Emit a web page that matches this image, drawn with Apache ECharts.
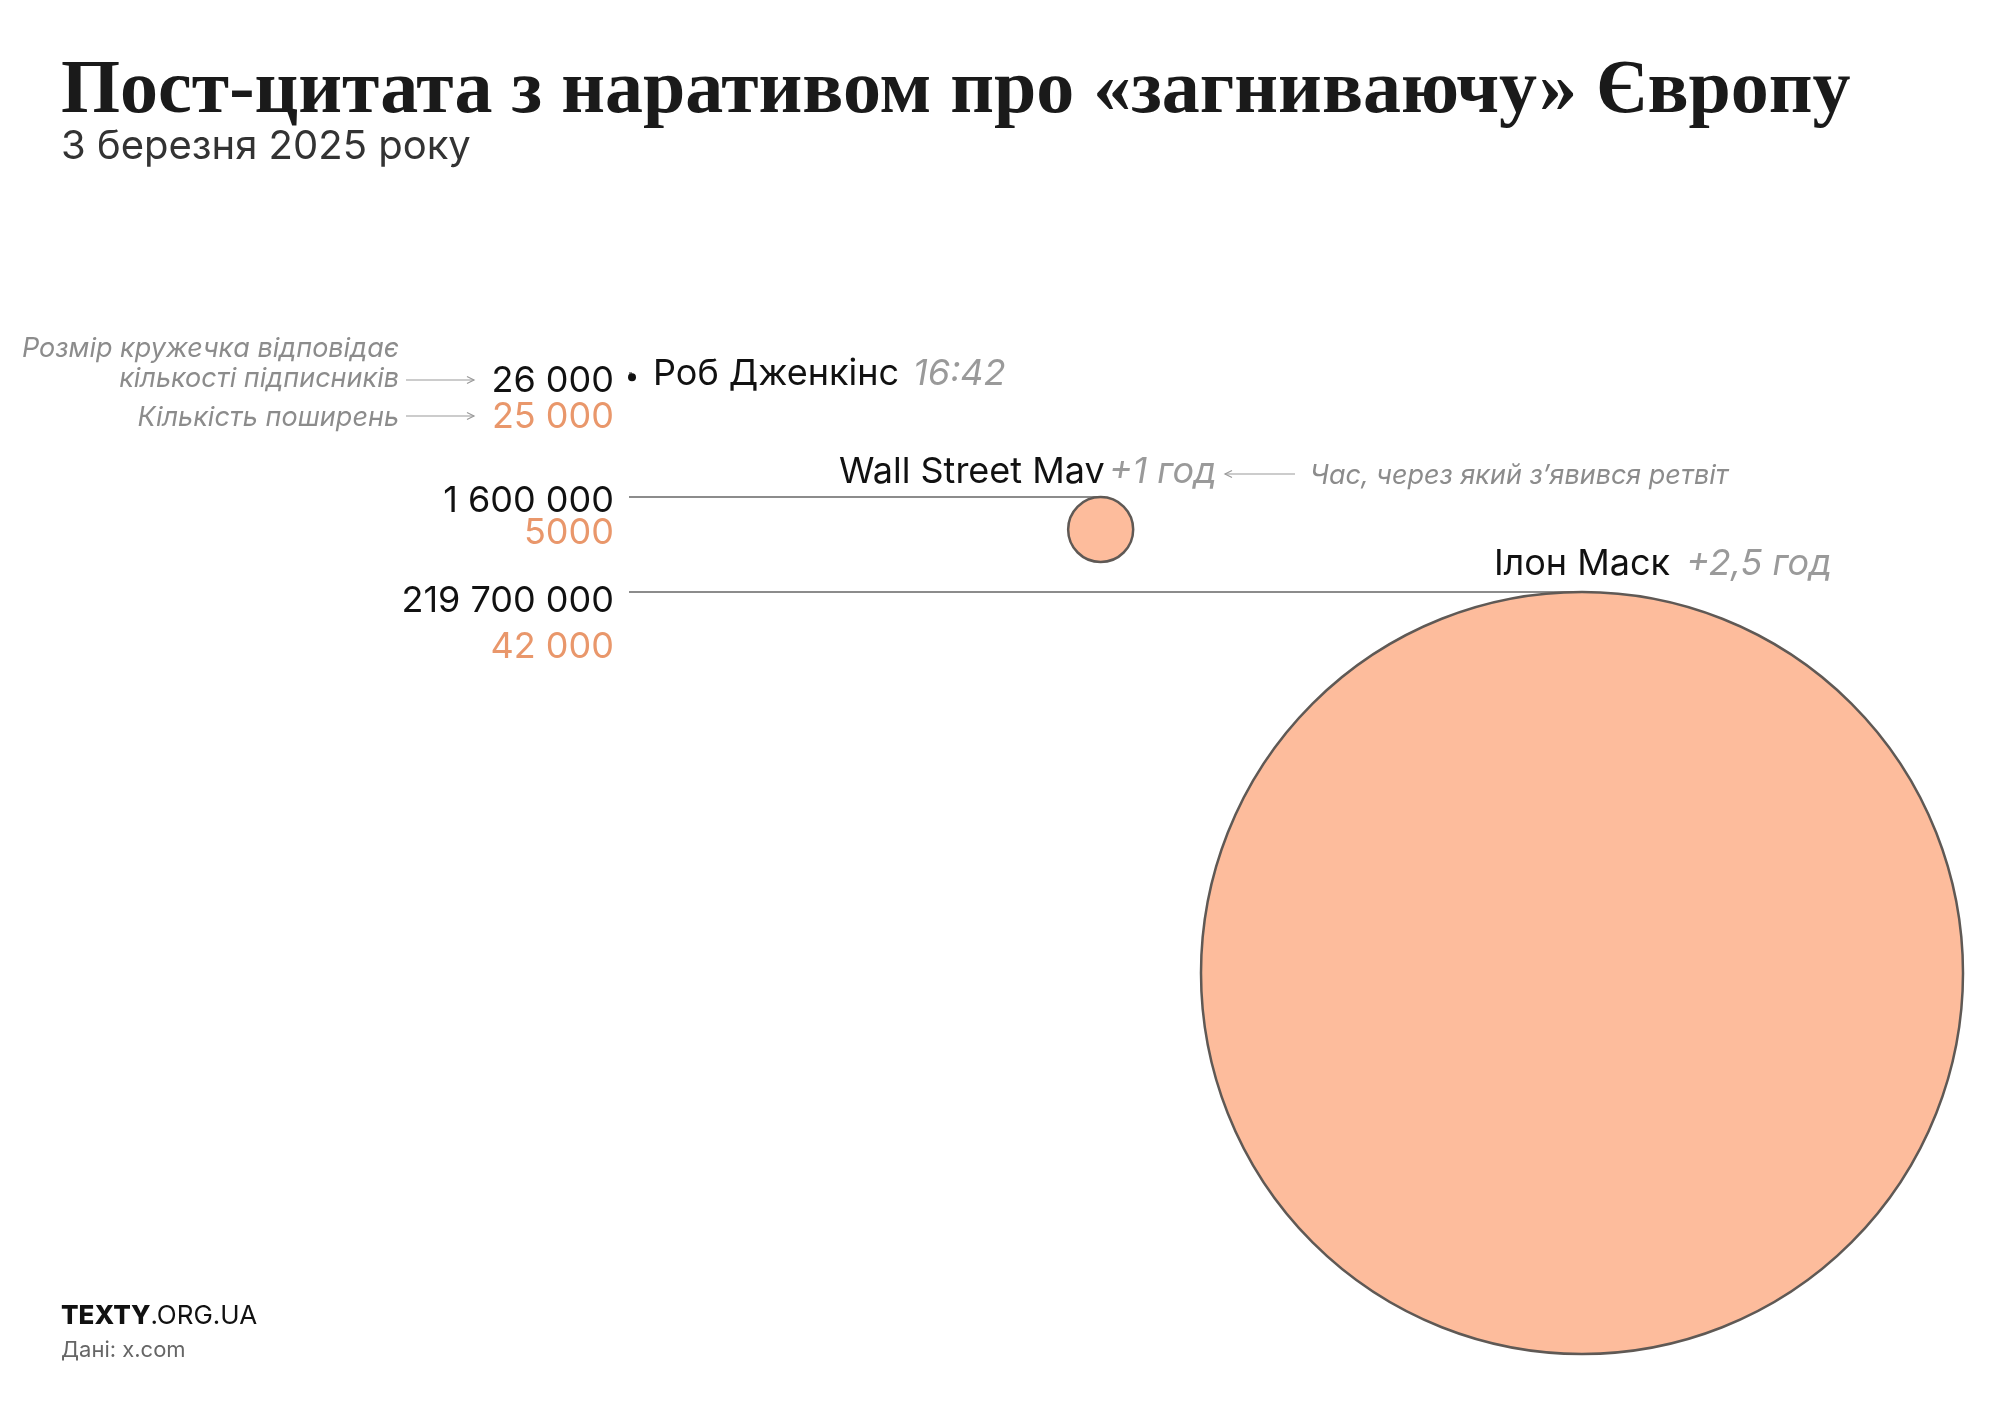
<!DOCTYPE html>
<html>
<head>
<meta charset="utf-8">
<script src="https://cdn.jsdelivr.net/npm/echarts@6/dist/echarts.min.js"></script>
<style>
  html, body { margin: 0; padding: 0; background: #ffffff; }
  #chart { width: 2000px; height: 1409px; }
</style>
</head>
<body>
<div id="chart"></div>
<script>
// ---- DATA ----
const names = ['Роб Дженкінс', 'Wall Street Mav', 'Ілон Маск'];
const timeLabels = ['16:42', '+1 год', '+2,5 год'];
const minutesAfterFirst = [0, 74, 150];
const followers = [26000, 1600000, 219700000];
const reposts = [25000, 5000, 42000];

// ---- LAYOUT (not data) ----
const SANS = 'Inter, "Open Sans", "Noto Sans", sans-serif';
const R_MAX = 381;                 // radius of the largest circle, px
const ROW_LINE_Y = [373, 497, 592];// row guide lines
const NUM_DY = [8, 4, 9];          // follower number offset from the line
const REPOST_DY = [36, 32, 46];    // repost number below the follower number
const NUM_RIGHT = 614;             // right edge of the number column
const NAME_MODE = ['afterDot', 'endAtCenter', 'centered'];
const NAME_FONT = 36;

const maxF = Math.max.apply(null, followers);
function radius(v) { return R_MAX * Math.sqrt(v / maxF); }
function fmt(n) {
  if (n < 10000) return String(n);
  return String(n).replace(/\B(?=(\d{3})+(?!\d))/g, ' ');
}
const mctx = document.createElement('canvas').getContext('2d');
function textW(t, font) { mctx.font = font; return mctx.measureText(t).width; }

const seriesData = minutesAfterFirst.map((m, i) => [m, followers[i], reposts[i]]);

const chart = echarts.init(document.getElementById('chart'), null, { renderer: 'canvas' });

function renderItem(params, api) {
  const i = params.dataIndex;
  const cx = api.coord([api.value(0), 0])[0];
  const x0 = api.coord([0, 0])[0];
  const r = radius(api.value(1));
  const ly = ROW_LINE_Y[i];
  const children = [];
  // guide line from number column to the circle
  children.push({
    type: 'line',
    shape: { x1: x0 - 3, y1: ly, x2: cx, y2: ly },
    style: { stroke: '#666666', lineWidth: 1.5 }
  });
  // circle hanging below the line (tiny ones drawn as a solid dot)
  const tiny = r < 6;
  children.push({
    type: 'circle',
    shape: { cx: cx, cy: ly + r, r: tiny ? 4 : r },
    style: tiny ? { fill: '#111111' } : { fill: '#fdbc9c', stroke: '#5f5955', lineWidth: 2.5 }
  });
  const ny0 = ly + NUM_DY[i];
  // follower number
  children.push({
    type: 'text',
    style: {
      text: fmt(api.value(1)), x: NUM_RIGHT, y: ny0,
      fill: '#111111', font: '400 36px ' + SANS,
      align: 'right', verticalAlign: 'middle'
    }
  });
  // repost number
  children.push({
    type: 'text',
    style: {
      text: fmt(api.value(2)), x: NUM_RIGHT, y: ny0 + REPOST_DY[i],
      fill: '#e9976b', font: '400 36px ' + SANS,
      align: 'right', verticalAlign: 'middle'
    }
  });
  // name + time
  const nameFont = '400 ' + NAME_FONT + 'px ' + SANS;
  const timeFont = 'italic 400 ' + NAME_FONT + 'px ' + SANS;
  const nw = textW(names[i], nameFont);
  let nameX, nameAlign, timeX, ny;
  if (NAME_MODE[i] === 'afterDot') {
    nameX = cx + 21; nameAlign = 'left'; timeX = nameX + nw + 14; ny = ly + 1;
  } else if (NAME_MODE[i] === 'endAtCenter') {
    nameX = cx + 4; nameAlign = 'right'; timeX = cx + 8; ny = ly - 25;
  } else {
    nameX = cx; nameAlign = 'center'; timeX = cx + nw / 2 + 16; ny = ly - 28;
  }
  children.push({
    type: 'text',
    style: { text: names[i], x: nameX, y: ny, fill: '#111111', font: nameFont, align: nameAlign, verticalAlign: 'middle' }
  });
  children.push({
    type: 'text',
    style: { text: timeLabels[i], x: timeX, y: ny, fill: '#9a9a9a', font: timeFont, align: 'left', verticalAlign: 'middle' }
  });
  return { type: 'group', children: children };
}

function arrow(x1, y, x2) {
  const dir = x2 > x1 ? 1 : -1;
  return [
    { type: 'line', shape: { x1: x1, y1: y, x2: x2, y2: y }, style: { stroke: '#9a9a9a', lineWidth: 1.2 } },
    { type: 'polyline', shape: { points: [[x2 - dir * 7, y - 3.5], [x2, y], [x2 - dir * 7, y + 3.5]] }, style: { stroke: '#9a9a9a', lineWidth: 1.2, fill: null } }
  ];
}

const noteFont = 'italic 400 27px ' + SANS;

const option = {
  backgroundColor: '#ffffff',
  animation: false,
  grid: { left: 632, right: 418, top: 373, bottom: 50 },
  xAxis: { type: 'value', min: 0, max: 150, show: false },
  yAxis: { type: 'value', min: 0, max: 1, show: false },
  series: [{
    type: 'custom',
    renderItem: renderItem,
    data: seriesData,
    clip: false
  }],
  graphic: [
    { type: 'text', left: 61, top: 54, style: { text: 'Пост-цитата з наративом про «загниваючу» Європу', fill: '#1a1a1a', font: 'bold 76px "Liberation Serif", serif' } },
    { type: 'text', left: 61, top: 127, style: { text: '3 березня 2025 року', fill: '#333333', font: '400 40px ' + SANS } },

    { type: 'text', x: 399, y: 349, style: { text: 'Розмір кружечка відповідає', fill: '#8c8c8c', font: noteFont, align: 'right', verticalAlign: 'middle' } },
    { type: 'text', x: 399, y: 379, style: { text: 'кількості підписників', fill: '#8c8c8c', font: noteFont, align: 'right', verticalAlign: 'middle' } },
    { type: 'text', x: 399, y: 418, style: { text: 'Кількість поширень', fill: '#8c8c8c', font: noteFont, align: 'right', verticalAlign: 'middle' } },
    { type: 'group', children: arrow(406, 380, 474) },
    { type: 'group', children: arrow(406, 416, 474) },
    { type: 'group', children: arrow(1295, 474, 1225) },
    { type: 'text', x: 1310, y: 476, style: { text: 'Час, через який з’явився ретвіт', fill: '#8c8c8c', font: noteFont, align: 'left', verticalAlign: 'middle' } },

    { type: 'text', x: 61, y: 1316, style: { text: '{b|TEXTY}{r|.ORG.UA}', verticalAlign: 'middle', rich: {
      b: { fill: '#111111', font: '800 26px ' + SANS },
      r: { fill: '#111111', font: '400 26px ' + SANS }
    } } },
    { type: 'text', x: 61, y: 1350, style: { text: 'Дані: x.com', fill: '#666666', font: '400 22px ' + SANS, verticalAlign: 'middle' } }
  ]
};
chart.setOption(option);
</script>
</body>
</html>
